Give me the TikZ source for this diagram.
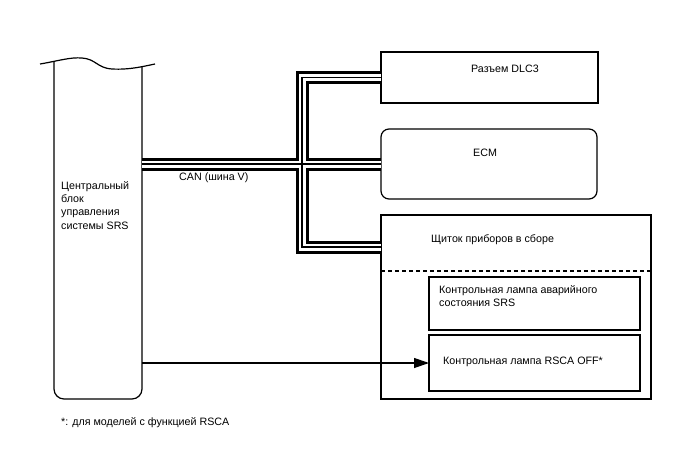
\documentclass[tikz,border=0pt]{standalone}
\usepackage{fontspec}
\setmainfont{Liberation Sans}
\usetikzlibrary{arrows.meta}
\begin{document}
\begin{tikzpicture}[x=1pt,y=-1pt,
  box/.style={draw, line width=1.2pt, inner sep=0pt, outer sep=0pt},
  lbl/.style={anchor=west, inner sep=0pt, font=\fontsize{10.7}{13.4}\selectfont, align=left},
  ln/.style={line width=1.2pt},
  busout/.style={line width=13pt, black},
  busmid/.style={line width=7pt, white},
  busin/.style={line width=1.3pt, black}]
\useasboundingbox (0,0) rectangle (688,463);
% ECU shape
\draw[ln] (40,64) .. controls (58,61) and (70,57) .. (82,58)
  .. controls (96,59) and (97,68) .. (112,69)
  .. controls (130,70) and (145,66) .. (155,64);
\draw[ln, rounded corners=10pt] (54,62) -- (54,399) -- (142,399) -- (142,67);
\coordinate (ecucan) at (142,164);
\coordinate (ecuarr) at (142,363);
\node[lbl, anchor=north west] (ecutxt) at (61,181) {Центральный\\блок\\управления\\системы SRS};
% boxes
\node[box, minimum width=217pt, minimum height=51pt] (dlc) at (489.5,77.5) {};
\node[box, rounded corners=8pt, minimum width=216pt, minimum height=70pt] (ecm) at (489,164) {};
\node[box, minimum width=270pt, minimum height=184pt] (meter) at (516,307) {};
\node[box, minimum width=211pt, minimum height=53pt] (lamp1) at (534.5,303.5) {};
\node[box, minimum width=211pt, minimum height=56pt] (lamp2) at (534.5,363) {};
\draw[ln, dashed, dash pattern=on 4pt off 3pt] (meter.west |- 0,271) coordinate (dl) -- (meter.east |- dl);
% labels
\node[lbl] (t1) at (471,69) {Разъем DLC3};
\node[lbl] (t2) at (473,153) {ECM};
\node[lbl] (t3) at (431,240) {Щиток приборов в сборе};
\node[lbl, anchor=north west] (t4) at (439,285) {Контрольная лампа аварийного\\состояния SRS};
\node[lbl] (t5) at (443,362) {Контрольная лампа RSCA OFF*};
\node[lbl] (can) at (179,178) {CAN (шина V)};
\node[lbl] (foot) at (61,423) {*: для моделей с функцией RSCA};
% bus
\coordinate (J) at (302,164);
\coordinate (metin) at (meter.west |- 0,247);
\foreach \st in {busout,busmid,busin}{
  \draw[\st] (ecucan) -- (ecm.west);
  \draw[\st] (dlc.west) -| (J) |- (metin);
}
% arrow
\draw[ln, -{Triangle[length=15pt,width=10pt]}] (ecuarr) -- (lamp2.west);
\end{tikzpicture}
\end{document}
